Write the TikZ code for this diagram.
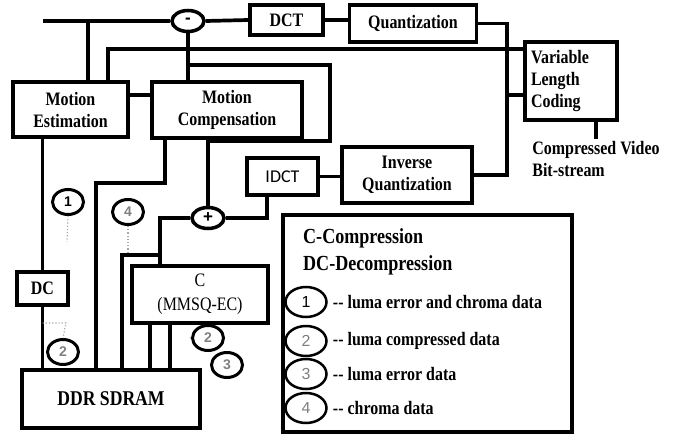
\documentclass[tikz,border=0pt]{standalone}
\usepackage{fontspec}
\setmainfont{Liberation Serif}[FakeStretch=0.84]
\newfontfamily\idctfont{Carlito}
\newfontfamily\numfont{Liberation Sans}
\usetikzlibrary{positioning,shapes.geometric,calc}

\begin{document}
\begin{tikzpicture}[
    x=1pt, y=-1pt,
    blk/.style 2 args={rectangle, draw, line width=3.7pt, minimum width=#1,
                minimum height=#2, align=center, inner sep=2pt,
                font=\bfseries\fontsize{19}{22}\selectfont},
    sum/.style={ellipse, draw, line width=3.5pt, minimum width=32,
                minimum height=21, inner sep=0pt,
                font=\numfont\bfseries\fontsize{17}{17}\selectfont},
    num/.style={ellipse, draw, line width=3pt, minimum width=31,
                minimum height=25, inner sep=0pt,
                font=\numfont\bfseries\fontsize{14}{14}\selectfont, text=#1},
    key/.style={ellipse, draw, line width=2.5pt, minimum width=41,
                minimum height=30, inner sep=0pt,
                font=\numfont\fontsize{16}{16}\selectfont, text=#1},
    wire/.style={line width=3.7pt},
    dots/.style={dotted, line width=1.2pt, gray!70},
    lbl/.style={font=\bfseries\fontsize{19}{22}\selectfont, inner sep=2pt}
]
\useasboundingbox (0,0) rectangle (677,434);

% Forward path (top)
\node[sum] (minus) at (188,21) {-};
\node[blk={73}{30}] (dct) at (286.5,20) {DCT};
\node[blk={127}{37}] (quant) at (413,23.5) {Quantization};
\node[blk={92}{78}, align=left, text width=80,
      font=\bfseries\fontsize{19}{22}\selectfont] (vlc) at (571,81) {Variable\\Length\\Coding};
\node[lbl, align=left] (bits) at (596,159) {Compressed Video\\Bit-stream};

% Motion blocks
\node[blk={115}{55}] (me) at (70.5,109.5) {Motion\\Estimation};
\node[blk={150}{56}] (mc) at (227,110) {Motion\\Compensation};

% Reconstruction path
\node[blk={71}{37}, font=\idctfont\fontsize{18}{20}\selectfont] (idct) at (282.5,176.5) {IDCT};
\node[blk={130}{56}] (iq) at (407,175) {Inverse\\Quantization};
\node[sum] (plus) at (208,218) {+};

% Memory side
\node[blk={51}{33}] (dc) at (42.5,288.5) {DC};
\node[blk={136}{57}, font=\fontsize{19}{24}\selectfont] (cbox) at (200,294.5) {C\\(MMSQ-EC)};
\node[blk={178}{58}, font=\bfseries\fontsize{21}{22}\selectfont] (ddr) at (111,399) {DDR SDRAM};

% Data labels
\node[num=black] (n1) at (68,202) {1};
\node[num=gray] (n4) at (128,212) {4};
\node[num=gray] (n2a) at (63,352) {2};
\node[num=gray] (n2b) at (208,338) {2};
\node[num=gray] (n3) at (227,365) {3};

% Legend
\node[rectangle, draw, line width=3.7pt, minimum width=289, minimum height=217] (legend) at (427.5,323.5) {};
\node[lbl, anchor=west, font=\bfseries\fontsize{21.5}{22}\selectfont] (lc) at (301,238) {C-Compression};
\node[lbl, anchor=west, font=\bfseries\fontsize{21.5}{22}\selectfont] (ldc) at (301,265) {DC-Decompression};
\node[key=black] (k1) at (306,302) {1};
\node[key=gray] (k2) at (306,341) {2};
\node[key=gray] (k3) at (306,374) {3};
\node[key=gray] (k4) at (306,408) {4};
\node[lbl, right=3pt of k1] (t1) {-{}- luma error and chroma data};
\node[lbl, right=3pt of k2] (t2) {-{}- luma compressed data};
\node[lbl, right=3pt of k3] (t3) {-{}- luma error data};
\node[lbl, right=3pt of k4] (t4) {-{}- chroma data};

% Coordinates for bends
\coordinate (src) at (43,21);
\coordinate (tme) at (88,21);
\coordinate (fb) at (108,49);
\coordinate (vbus) at (507,95);
\coordinate (lpa) at (188,65);
\coordinate (lpb) at (330,141);
\coordinate (memc) at (128,95);
\coordinate (mcd) at (165,183);
\coordinate (dda) at (96,370);
\coordinate (cin) at (160,255);
\coordinate (ddb) at (122,370);
\coordinate (cd1) at (150,370);
\coordinate (cd2) at (170,370);
\coordinate (pi) at (267,218);
\coordinate (e1) at (67,242);
\coordinate (e4) at (128,252);
\coordinate (d2a) at (66,323);
\coordinate (d2b) at (188,337);

\draw[wire] (src) -- (minus.west);
\draw[wire] (minus.east) -- (dct.west);
\draw[wire] (dct.east) -- (dct.east -| quant.west);
\draw[wire] (quant.east) -| (vbus) |- (iq.east);
\draw[wire] (vbus) -- (vbus -| vlc.west);
\draw[wire] (vlc.south -| bits.north) -- (bits.north);
\draw[wire] (tme) -- (tme |- me.north);
\draw[wire] (fb -| vlc.west) -- (fb) -- (fb |- me.north);
\draw[wire] (minus.south) -- (minus.south |- mc.north);
\draw[wire] (lpa) -| (lpb) -| (plus.north);
\draw[wire] (memc) -- (memc -| mc.west);
\draw[wire] (me.south -| dc.north) -- (dc.north);
\draw[wire] (dc.south) -- (dc.south |- ddr.north);
\draw[wire] (mcd |- mc.south) -- (mcd) -| (dda);
\draw[wire] (plus.west) -| (cin |- cbox.north);
\draw[wire] (cin) -| (ddb);
\draw[wire] (cd1 |- cbox.south) -- (cd1);
\draw[wire] (cd2 |- cbox.south) -- (cd2);
\draw[wire] (plus.east) -- (pi) -- (pi |- idct.south);
\draw[wire] (idct.east) -- (idct.east -| iq.west);

% Dotted data taps
\draw[dots] (n1.south) -- (e1);
\draw[dots] (n4.south) -- (e4);
\draw[dots] (dc.south |- d2a) -- (d2a) -- (n2a.north);
\draw[dots] (n2b.west) -- (d2b);

\end{tikzpicture}
\end{document}
